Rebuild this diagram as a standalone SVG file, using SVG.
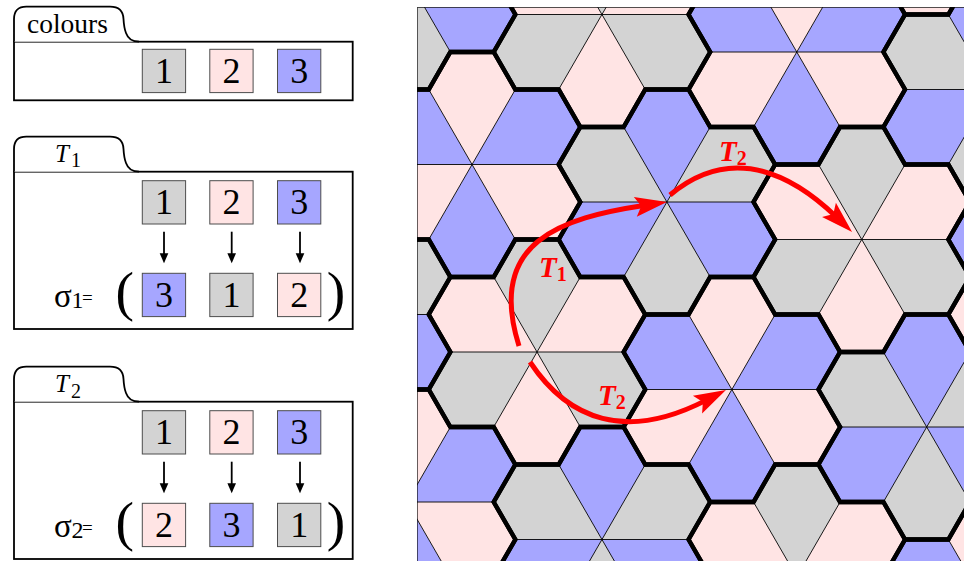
<svg xmlns="http://www.w3.org/2000/svg" xmlns:xlink="http://www.w3.org/1999/xlink" width="964" height="561" viewBox="0 0 964 561">
<style>
.c1{fill:#d3d3d3}
.c2{fill:#ffe4e4}
.c3{fill:#a6a6ff}
.sq{stroke:#4d4d4d;stroke-width:1}
.box{fill:#fff;stroke:#000;stroke-width:1.8}
.tab{fill:#fff;stroke:#000;stroke-width:1.8;stroke-linejoin:round}
.num{font-family:"Liberation Serif",serif;font-size:36px;text-anchor:middle;fill:#000}
.txt{font-family:"Liberation Serif",serif;fill:#000}
.rays{fill:none;stroke:#000;stroke-width:0.9}
.ol{fill:none;stroke:#000;stroke-width:4.3;stroke-linejoin:miter}
.red{fill:none;stroke:#f00;stroke-width:5}
.blk{fill:none;stroke:#000;stroke-width:1.8}
.lbl{font-family:"Liberation Serif",serif;font-style:italic;font-weight:bold;font-size:29px;fill:#f00}
.lsub{font-style:normal;font-size:20px}
</style>
<defs>
<g id="odd">
<polygon points="0,0 -43.3,-75 -86.6,-75 -108.25,-37.5 -86.6,0"/>
<polygon points="0,0 86.6,0 108.25,-37.5 86.6,-75 43.3,-75"/>
<polygon points="0,0 -43.3,75 -21.65,112.5 21.65,112.5 43.3,75"/>
</g>
<g id="even">
<polygon points="0,0 43.3,-75 21.65,-112.5 -21.65,-112.5 -43.3,-75"/>
<polygon points="0,0 43.3,75 86.6,75 108.25,37.5 86.6,0"/>
<polygon points="0,0 -86.6,0 -108.25,37.5 -86.6,75 -43.3,75"/>
</g>
<g id="r0"><use xlink:href="#odd" class="c2"/><use xlink:href="#even" class="c1"/></g>
<g id="r1"><use xlink:href="#odd" class="c3"/><use xlink:href="#even" class="c2"/></g>
<g id="r2"><use xlink:href="#odd" class="c1"/><use xlink:href="#even" class="c3"/></g>
<path id="ray" class="rays" d="M-86.6,0H86.6M-43.3,-75L43.3,75M43.3,-75L-43.3,75"/>
<path id="ol" class="ol" d="M86.6,0L108.25,37.5L86.6,75L43.3,75L21.65,112.5L-21.65,112.5L-43.3,75L-86.6,75L-108.25,37.5L-86.6,0L-108.25,-37.5L-86.6,-75L-43.3,-75L-21.65,-112.5L21.65,-112.5L43.3,-75L86.6,-75L108.25,-37.5Z"/>
<clipPath id="clip"><rect x="417" y="7.3" width="547" height="554"/></clipPath>
<marker id="rh" viewBox="-12 -12 36 24" refX="0" refY="0" markerWidth="36" markerHeight="24" markerUnits="userSpaceOnUse" orient="auto"><path d="M22,0 L-10,-10 L-4,0 L-10,10 Z" fill="#f00"/></marker>
<marker id="bh" viewBox="-5 -5 12 10" refX="0" refY="0" markerWidth="12" markerHeight="10" markerUnits="userSpaceOnUse" orient="auto"><path d="M6,0 L-4,-4.3 L-4,4.3 Z" fill="#000"/></marker>
</defs>
<rect width="964" height="561" fill="#fff"/>

<g id="panel-colours">
<rect class="box" x="14" y="41.7" width="338.7" height="58.6"/>
<path class="tab" d="M14,41.7 V19 Q14,6.7 26.3,6.7 H110 Q123,6.7 123.5,19 Q124,28 126,33 Q129,41.7 139,41.7"/>
<text class="txt" x="27" y="33.3" font-size="27.5">colours</text>
<rect class="sq c1" x="142.3" y="49.3" width="43.3" height="43.3"/>
<rect class="sq c2" x="209.8" y="49.3" width="43.3" height="43.3"/>
<rect class="sq c3" x="277.5" y="49.3" width="43.3" height="43.3"/>
<text class="num" x="164" y="83">1</text>
<text class="num" x="231.5" y="83">2</text>
<text class="num" x="299.2" y="83">3</text>
</g>

<g id="panel-T1">
<rect class="box" x="14" y="171.7" width="338.7" height="157.3"/>
<path class="tab" d="M14,171.7 V149 Q14,136.7 26.3,136.7 H110 Q123,136.7 123.5,149 Q124,158 126,163 Q129,171.7 139,171.7"/>
<text class="txt" x="55" y="161.7" font-size="25" font-style="italic">T<tspan font-style="normal" font-size="20" dx="2" dy="5">1</tspan></text>
<rect class="sq c1" x="142.3" y="180.7" width="43.3" height="43.3"/>
<rect class="sq c2" x="209.8" y="180.7" width="43.3" height="43.3"/>
<rect class="sq c3" x="277.5" y="180.7" width="43.3" height="43.3"/>
<text class="num" x="164" y="214">1</text>
<text class="num" x="231.5" y="214">2</text>
<text class="num" x="299.2" y="214">3</text>
<rect class="sq c3" x="142.3" y="273.3" width="43.3" height="43.3"/>
<rect class="sq c1" x="209.8" y="273.3" width="43.3" height="43.3"/>
<rect class="sq c2" x="277.5" y="273.3" width="43.3" height="43.3"/>
<text class="num" x="164" y="306.8">3</text>
<text class="num" x="231.5" y="306.8">1</text>
<text class="num" x="299.2" y="306.8">2</text>
<text class="txt" x="54" y="306.5" font-size="33">σ</text>
<text class="txt" x="71.5" y="308" font-size="24">1</text>
<text class="txt" x="82" y="304" font-size="19">=</text>
<text class="txt" x="115.6" y="310.2" font-size="55.5">(</text>
<text class="txt" x="326.7" y="310.2" font-size="55.5">)</text>
</g>

<g id="panel-T2">
<rect class="box" x="14" y="401.7" width="338.7" height="157.3"/>
<path class="tab" d="M14,401.7 V379 Q14,366.7 26.3,366.7 H110 Q123,366.7 123.5,379 Q124,388 126,393 Q129,401.7 139,401.7"/>
<text class="txt" x="55" y="391.7" font-size="25" font-style="italic">T<tspan font-style="normal" font-size="20" dx="2" dy="6">2</tspan></text>
<rect class="sq c1" x="142.3" y="410.7" width="43.3" height="43.3"/>
<rect class="sq c2" x="209.8" y="410.7" width="43.3" height="43.3"/>
<rect class="sq c3" x="277.5" y="410.7" width="43.3" height="43.3"/>
<text class="num" x="164" y="444">1</text>
<text class="num" x="231.5" y="444">2</text>
<text class="num" x="299.2" y="444">3</text>
<rect class="sq c2" x="142.3" y="503.3" width="43.3" height="43.3"/>
<rect class="sq c3" x="209.8" y="503.3" width="43.3" height="43.3"/>
<rect class="sq c1" x="277.5" y="503.3" width="43.3" height="43.3"/>
<text class="num" x="164" y="536.8">2</text>
<text class="num" x="231.5" y="536.8">3</text>
<text class="num" x="299.2" y="536.8">1</text>
<text class="txt" x="54" y="536.5" font-size="33">σ</text>
<text class="txt" x="71.5" y="538" font-size="24">2</text>
<text class="txt" x="82" y="534" font-size="19">=</text>
<text class="txt" x="115.6" y="540.2" font-size="55.5">(</text>
<text class="txt" x="326.7" y="540.2" font-size="55.5">)</text>
</g>

<g id="tiling" clip-path="url(#clip)">
<rect x="417" y="7.3" width="547" height="554" fill="#fff"/>
<g id="fills">
<use xlink:href="#r2" x="407.1" y="-23"/>
<use xlink:href="#r2" x="342.15" y="314.5"/>
<use xlink:href="#r2" x="666.9" y="202"/>
<use xlink:href="#r2" x="601.95" y="539.5"/>
<use xlink:href="#r2" x="991.65" y="89.5"/>
<use xlink:href="#r2" x="926.7" y="427"/>
<use xlink:href="#r1" x="472.05" y="164.5"/>
<use xlink:href="#r1" x="407.1" y="502"/>
<use xlink:href="#r1" x="796.8" y="52"/>
<use xlink:href="#r1" x="731.85" y="389.5"/>
<use xlink:href="#r1" x="1056.6" y="277"/>
<use xlink:href="#r1" x="991.65" y="614.5"/>
<use xlink:href="#r0" x="601.95" y="14.5"/>
<use xlink:href="#r0" x="537" y="352"/>
<use xlink:href="#r0" x="926.7" y="-98"/>
<use xlink:href="#r0" x="861.75" y="239.5"/>
<use xlink:href="#r0" x="796.8" y="577"/>
</g>
<g id="thin-lines">
<use xlink:href="#ray" x="407.1" y="-23"/>
<use xlink:href="#ray" x="342.15" y="314.5"/>
<use xlink:href="#ray" x="666.9" y="202"/>
<use xlink:href="#ray" x="601.95" y="539.5"/>
<use xlink:href="#ray" x="991.65" y="89.5"/>
<use xlink:href="#ray" x="926.7" y="427"/>
<use xlink:href="#ray" x="472.05" y="164.5"/>
<use xlink:href="#ray" x="407.1" y="502"/>
<use xlink:href="#ray" x="796.8" y="52"/>
<use xlink:href="#ray" x="731.85" y="389.5"/>
<use xlink:href="#ray" x="1056.6" y="277"/>
<use xlink:href="#ray" x="991.65" y="614.5"/>
<use xlink:href="#ray" x="601.95" y="14.5"/>
<use xlink:href="#ray" x="537" y="352"/>
<use xlink:href="#ray" x="926.7" y="-98"/>
<use xlink:href="#ray" x="861.75" y="239.5"/>
<use xlink:href="#ray" x="796.8" y="577"/>
</g>
<g id="thick-lines">
<use xlink:href="#ol" x="407.1" y="-23"/>
<use xlink:href="#ol" x="342.15" y="314.5"/>
<use xlink:href="#ol" x="666.9" y="202"/>
<use xlink:href="#ol" x="601.95" y="539.5"/>
<use xlink:href="#ol" x="991.65" y="89.5"/>
<use xlink:href="#ol" x="926.7" y="427"/>
<use xlink:href="#ol" x="472.05" y="164.5"/>
<use xlink:href="#ol" x="407.1" y="502"/>
<use xlink:href="#ol" x="796.8" y="52"/>
<use xlink:href="#ol" x="731.85" y="389.5"/>
<use xlink:href="#ol" x="1056.6" y="277"/>
<use xlink:href="#ol" x="991.65" y="614.5"/>
<use xlink:href="#ol" x="601.95" y="14.5"/>
<use xlink:href="#ol" x="537" y="352"/>
<use xlink:href="#ol" x="926.7" y="-98"/>
<use xlink:href="#ol" x="861.75" y="239.5"/>
<use xlink:href="#ol" x="796.8" y="577"/>
</g>
<rect x="417" y="7.3" width="600" height="600" fill="none" stroke="#000" stroke-width="1.2"/>
</g>

<g id="connectors">
<path class="blk" d="M164,231.7 V257.3" marker-end="url(#bh)"/>
<path class="blk" d="M231.7,231.7 V257.3" marker-end="url(#bh)"/>
<path class="blk" d="M300,231.7 V257.3" marker-end="url(#bh)"/>
<path class="blk" d="M164,461.7 V487.3" marker-end="url(#bh)"/>
<path class="blk" d="M231.7,461.7 V487.3" marker-end="url(#bh)"/>
<path class="blk" d="M300,461.7 V487.3" marker-end="url(#bh)"/>
<path class="red" d="M519,346 C486,241.5 561,218 645.2,205.3" marker-end="url(#rh)"/>
<path class="red" d="M670,195 C721,152 778,161 836.2,216.8" marker-end="url(#rh)"/>
<path class="red" d="M530,362 C568.5,420.1 626.3,441.5 706.4,400.1" marker-end="url(#rh)"/>
</g>

<g id="arrow-labels">
<text class="lbl" x="539" y="277">T<tspan class="lsub" dy="4">1</tspan></text>
<text class="lbl" x="719" y="161">T<tspan class="lsub" dy="4">2</tspan></text>
<text class="lbl" x="598" y="405">T<tspan class="lsub" dy="4">2</tspan></text>
</g>
</svg>
